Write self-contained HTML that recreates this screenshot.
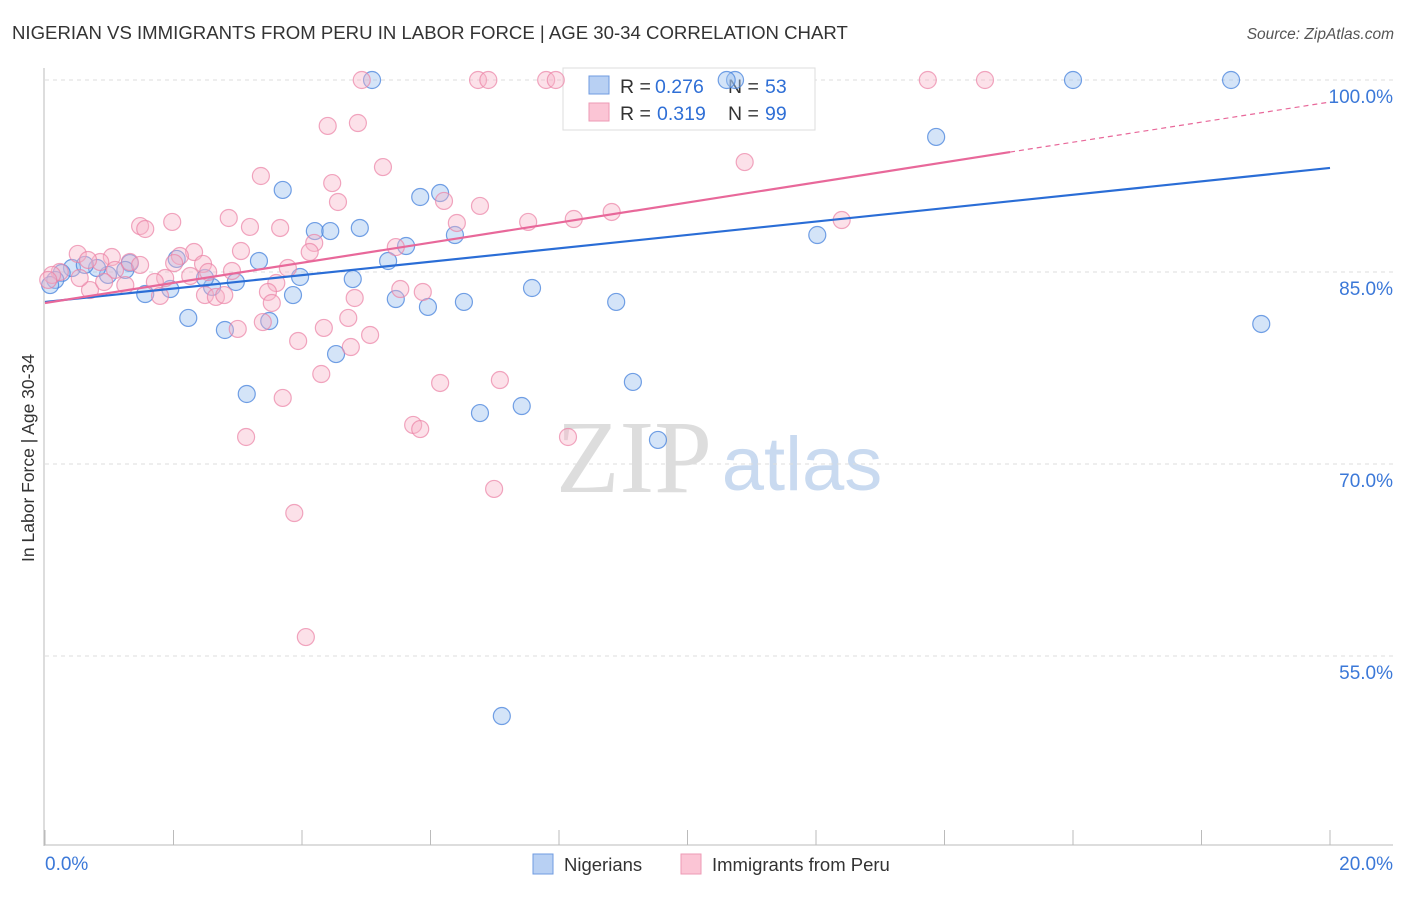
<!DOCTYPE html>
<html><head><meta charset="utf-8"><style>
body{margin:0;background:#fff;font-family:"Liberation Sans",sans-serif}
svg text{font-family:"Liberation Sans",sans-serif}
</style></head><body>
<svg id="chart" width="1406" height="892">
<text x="12" y="39" font-size="18.6" fill="#333">NIGERIAN VS IMMIGRANTS FROM PERU IN LABOR FORCE | AGE 30-34 CORRELATION CHART</text>
<text x="1394" y="39" font-size="15.5" fill="#555" font-style="italic" text-anchor="end">Source: ZipAtlas.com</text>
<g>
<text x="634" y="492" font-size="104" fill="#ddd" text-anchor="middle" style="font-family:'Liberation Serif',serif">ZIP</text>
<text x="802" y="490" font-size="76" fill="#c9daf0" text-anchor="middle">atlas</text>
</g>
<g id="grid"></g>
<g id="axes"></g>
<g>
<rect x="563" y="68" width="252" height="62" fill="#fff" stroke="#ddd"/>
<rect x="589" y="76" width="20" height="18" fill="#b8d0f3" stroke="#6f9be0"/>
<rect x="589" y="103" width="20" height="18" fill="#fbc5d5" stroke="#ee9ab5"/>
<text y="93" font-size="19.5" fill="#333"><tspan x="620">R =</tspan><tspan x="655" fill="#2f6fd6">0.276</tspan><tspan x="728">N =</tspan><tspan x="765" fill="#2f6fd6">53</tspan></text>
<text y="120" font-size="19.5" fill="#333"><tspan x="620">R =</tspan><tspan x="657" fill="#2f6fd6">0.319</tspan><tspan x="728">N =</tspan><tspan x="765" fill="#2f6fd6">99</tspan></text>
</g>
<g id="points"></g>
<g id="lines"></g>
<text x="34" y="458" font-size="17.5" fill="#333" text-anchor="middle" transform="rotate(-90 34 458)">In Labor Force | Age 30-34</text>
<g>
<rect x="533" y="854" width="20" height="20" fill="#b8d0f3" stroke="#6f9be0"/>
<text x="564" y="871" font-size="18.5" fill="#333">Nigerians</text>
<rect x="681" y="854" width="20" height="20" fill="#fbc5d5" stroke="#ee9ab5"/>
<text x="712" y="871" font-size="18.5" fill="#333">Immigrants from Peru</text>
</g>
</svg>
<script>
const yTicks=[100,85,70,55];
const yTickLabels=["100.0%","85.0%","70.0%","55.0%"];
const xTickLabels=["0.0%","20.0%"];
const blueX=[5.09,10.74,16.00,18.46,10.61,13.87,3.70,5.84,6.15,4.20,4.44,4.90,5.62,6.38,12.02,3.33,5.34,3.97,4.79,2.97,3.86,5.46,5.96,6.52,7.58,8.89,18.93,2.23,2.80,3.49,4.53,3.14,9.15,6.77,7.42,9.54,7.11,1.56,1.95,2.60,2.05,1.32,0.98,0.81,0.42,0.26,0.16,0.08,0.62,2.49,1.25];
const blueY=[100,100,100,100,100,95.55,91.41,90.86,91.17,88.20,88.20,88.44,87.03,87.89,87.89,85.86,85.86,84.61,84.45,84.22,83.20,82.89,82.27,82.66,83.75,82.66,80.94,81.41,80.47,81.17,78.59,75.47,76.41,73.98,74.53,71.88,50.31,83.28,83.67,83.83,86.02,85.70,84.77,85.31,85.31,84.92,84.38,83.98,85.55,84.53,85.16];
const pinkX=[4.93,6.74,6.90,7.80,7.95,13.74,14.63,4.40,4.87,5.26,10.89,3.36,4.47,4.56,6.21,6.77,8.23,8.82,12.40,7.52,6.41,2.86,3.19,3.66,1.98,1.48,1.56,4.19,4.12,5.46,3.05,2.32,2.10,0.51,1.04,1.32,0.86,2.46,3.78,2.91,2.54,3.60,2.26,1.87,1.71,3.47,2.49,2.66,2.79,4.82,5.53,5.88,3.53,4.72,3.39,3.00,4.34,5.06,3.94,4.76,4.30,6.15,7.08,3.70,5.73,5.84,3.13,8.14,6.99,3.88,4.06,1.79,1.25,0.70,0.54,0.23,0.11,0.05,1.09,1.48,0.92,2.01,0.67];
const pinkY=[100,100,100,100,100,100,100,96.41,96.64,93.20,93.59,92.50,91.95,90.47,90.55,90.16,89.14,89.69,89.06,88.91,88.83,89.22,88.52,88.44,88.91,88.59,88.36,87.27,86.56,86.95,86.64,86.56,86.25,86.41,86.17,85.78,85.78,85.63,85.31,85.08,85.00,84.14,84.69,84.53,84.22,83.44,83.20,83.05,83.20,82.97,83.67,83.44,82.58,81.41,81.09,80.55,80.63,80.08,79.61,79.14,77.03,76.33,76.56,75.16,73.05,72.73,72.11,72.11,68.05,66.17,56.48,83.13,83.98,83.59,84.53,85.00,84.77,84.38,85.16,85.55,84.22,85.70,85.94];
const blueLine=[82.66,93.13];
const pinkLine=[82.58,98.28];
const pinkSolidEnd=15.02;
const NS="http://www.w3.org/2000/svg";
const X=v=>45+v/20*1285;
const Y=v=>80+(100-v)*12.8;
function mk(tag,attrs,parent){const e=document.createElementNS(NS,tag);for(const k in attrs)e.setAttribute(k,attrs[k]);document.getElementById(parent).appendChild(e);return e;}
yTicks.forEach((t,i)=>{
 const l=mk('line',{x1:45,x2:1393,y1:Y(t),y2:Y(t),stroke:'#ddd','stroke-dasharray':'4,4'},'grid');
 
 
 const tx=mk('text',{x:1393,y:Y(t)+23,'font-size':19,fill:'#3b78d8','text-anchor':'end'},'axes');
 tx.textContent=yTickLabels[i];
 
 
});
let ax=mk('line',{x1:44,x2:44,y1:68,y2:846,stroke:'#bbb'},'axes');


ax=mk('line',{x1:44,x2:1393,y1:845,y2:845,stroke:'#bbb'},'axes');


for(let i=0;i<=10;i++){const t=mk('line',{x1:X(i*2),x2:X(i*2),y1:830,y2:845,stroke:'#bbb'},'axes');
 
 }
[[0,'start',45],[20,'end',1393]].forEach((a,i)=>{const t=mk('text',{x:a[2],y:870,'font-size':19,fill:'#3b78d8','text-anchor':a[1]},'axes');t.textContent=xTickLabels[i];
 
 });
blueX.forEach((x,i)=>{const c=mk('circle',{cx:X(x),cy:Y(blueY[i]),r:8.5,fill:'rgba(160,195,240,0.45)',stroke:'rgba(70,130,220,0.75)','stroke-width':1.2},'points');
 
 });
pinkX.forEach((x,i)=>{const c=mk('circle',{cx:X(x),cy:Y(pinkY[i]),r:8.5,fill:'rgba(248,180,200,0.4)',stroke:'rgba(235,130,165,0.7)','stroke-width':1.2},'points');
 
 });
const py=x=>pinkLine[0]+(pinkLine[1]-pinkLine[0])*x/20;
let l=mk('line',{x1:X(0),y1:Y(blueLine[0]),x2:X(20),y2:Y(blueLine[1]),stroke:'#2a6dd6','stroke-width':2.2},'lines');


l=mk('line',{x1:X(0),y1:Y(py(0)),x2:X(pinkSolidEnd),y2:Y(py(pinkSolidEnd)),stroke:'#e8689a','stroke-width':2.2},'lines');


l=mk('line',{x1:X(pinkSolidEnd),y1:Y(py(pinkSolidEnd)),x2:X(20),y2:Y(py(20)),stroke:'#e8689a','stroke-width':1.2,'stroke-dasharray':'5,4'},'lines');


</script>
</body></html>
